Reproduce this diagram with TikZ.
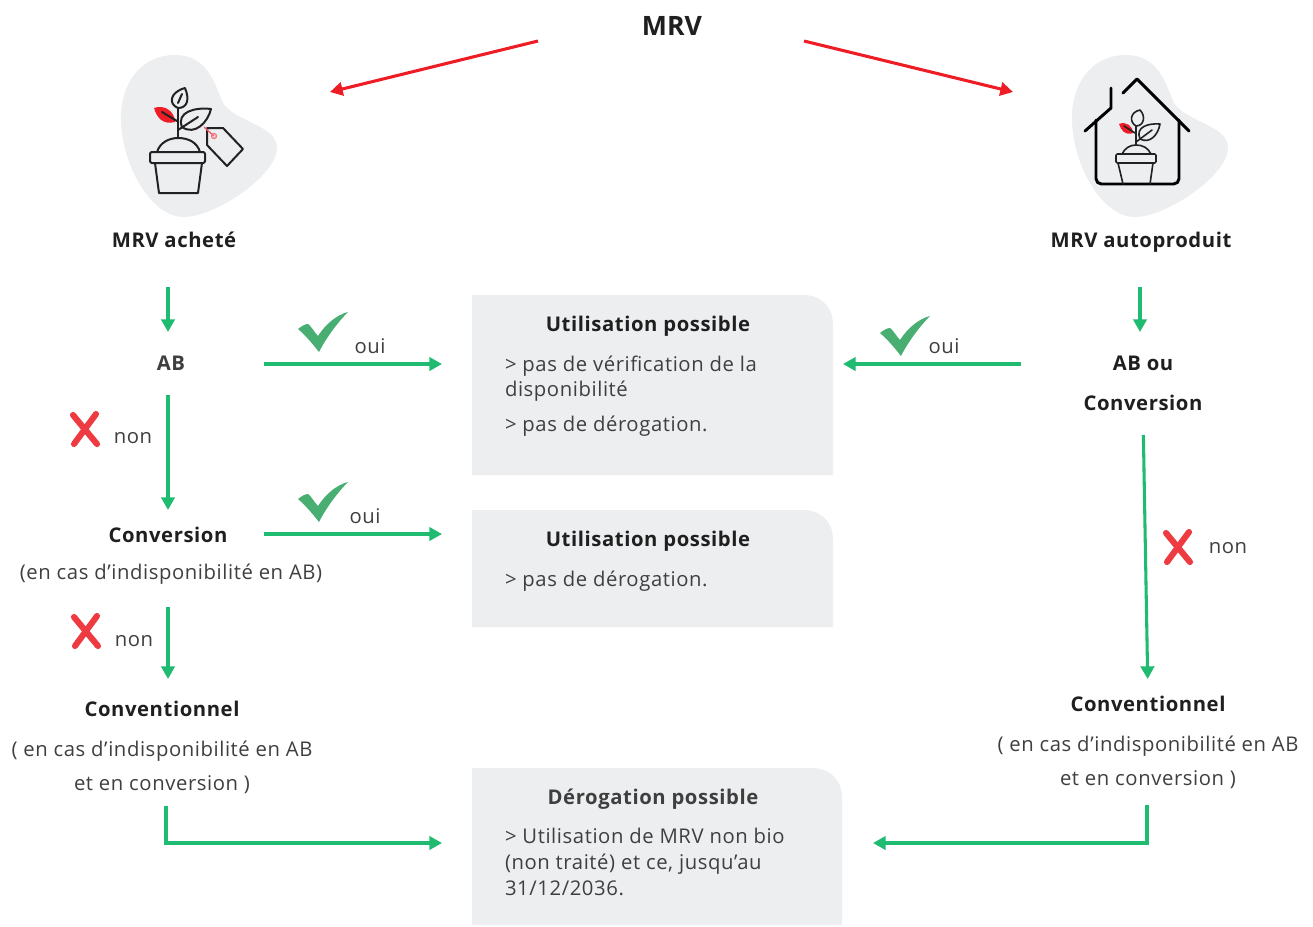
\documentclass[tikz,border=0pt]{standalone}
\usepackage{fontspec}
\setmainfont{Open Sans}
\newfontfamily\spaced[LetterSpace=2.9]{Open Sans}
\usetikzlibrary{arrows.meta,calc}
\definecolor{grn}{HTML}{1FBB70}
\definecolor{chk}{HTML}{48AE72}
\definecolor{rdx}{HTML}{EE3B42}
\definecolor{rda}{HTML}{EE1C25}
\definecolor{boxg}{HTML}{EDEEF0}
\definecolor{txt}{HTML}{3F3F3F}
\definecolor{hd}{HTML}{1F1F1F}
\definecolor{ico}{HTML}{222222}
\newcommand{\pxu}{0.75pt}
\tikzset{
 x=0.75pt,y=-0.75pt,
 lbl/.style={inner sep=0pt,outer sep=0pt,anchor=base,text height=10.5pt,text depth=3pt},
 head/.style={lbl,font=\spaced\fontsize{15.2}{16}\selectfont\bfseries,text=hd},
 headg/.style={head,text=txt},
 body/.style={lbl,font=\spaced\fontsize{15.2}{16}\selectfont,text=txt},
 bodyw/.style={body,anchor=base west},
 small/.style={body},
 ga/.style={draw=grn,line width=2.3pt,-{Triangle[length=9.5pt,width=10pt]}},
 ra/.style={draw=rda,line width=2.3pt,-{Triangle[length=9.5pt,width=10pt]}},
 boxn/.style={inner sep=0pt,outer sep=0pt,anchor=north west},
 ic/.style={draw=ico,line width=1.5pt,line join=round,line cap=round},
 ics/.style={ic,line width=1.2pt},
 icb/.style={draw=black,line width=2.2pt,line join=round,line cap=round},
 xm/.style={draw=rdx,line width=4.6pt,line cap=round},
}
\newcommand{\greybox}[5]{% name x y w h
 \node[boxn,minimum width=#4*\pxu,minimum height=#5*\pxu] (#1) at (#2,#3) {};
 \fill[boxg] (#1.south west) -- (#1.north west) -- ([xshift=-30*\pxu]#1.north east)
   .. controls ([xshift=-12*\pxu]#1.north east) and ([yshift=-12*\pxu]#1.north east) .. ([yshift=-30*\pxu]#1.north east)
   -- (#1.south east) -- cycle;}
\newcommand{\blob}[2]{%
 \fill[boxg,shift={(#1,#2)}] (121,120) .. controls (120,85) and (140,55) .. (175,55)
  .. controls (208,55) and (215,85) .. (223,103)
  .. controls (235,122) and (277,125) .. (277,148)
  .. controls (277,175) and (215,218) .. (182,217)
  .. controls (150,215) and (122,165) .. (121,120) -- cycle;}
\newcommand{\checkm}[3]{% x y scale
 \fill[chk,shift={(#1,#2)},scale=#3] (0,17) .. controls (4,14) and (7,12) .. (10,12)
  .. controls (13,14) and (17,21) .. (20,24)
  .. controls (27,13) and (38,3) .. (50,0)
  .. controls (40,10) and (28,26) .. (21,40)
  .. controls (14,31) and (7,23) .. (0,17) -- cycle;}
\newcommand{\crossm}[2]{%
 \draw[xm,shift={(#1,#2)}] (3,3) -- (27,32);
 \draw[xm,shift={(#1,#2)}] (26,2) -- (4,32);}
\begin{document}
\begin{tikzpicture}
\useasboundingbox[fill=white] (0,0) rectangle (1313,926);
% blobs
\blob{0}{0}
\blob{951}{0}
% boxes
\greybox{boxa}{472}{295}{361}{180}
\greybox{boxb}{472}{510}{361}{117}
\greybox{boxc}{472}{768}{370}{157}
% left icon
\fill[rda] (154,108) .. controls (165,104) and (175,112) .. (175,122) .. controls (163,125) and (157,118) .. (154,108) -- cycle;
\draw[ic] (162,112) -- (177,121);
\draw[ic] (178,138) -- (178,108);
\draw[ic] (178,108) .. controls (168,104) and (170,92) .. (185,88) .. controls (190,100) and (187,108) .. (178,108) -- cycle;
\draw[ic] (178,103) -- (182,94);
\draw[ic] (182,127) .. controls (176,112) and (195,107) .. (211,109) .. controls (208,122) and (195,136) .. (182,127) -- cycle;
\draw[ic] (178,130) -- (198,117);
\draw[ic] (157,152) .. controls (160,142) and (170,138) .. (178,138) .. controls (188,138) and (197,142) .. (200,152);
\draw[ic,rounded corners=1.5pt] (150,152) rectangle (205,163);
\draw[ic] (155,163) -- (159,193) -- (198,193) -- (202,163);
\draw[ic] (207,128) -- (223,128) -- (243,149) -- (227,166) -- (207,145) -- cycle;
\draw[rda!70,line width=1pt] (204,127) -- (214,136);
\draw[rda!60,line width=1pt] (214,136) circle (2.5);
% right icon
\draw[icb] (1123,93) -- (1137,79) -- (1189,131);
\draw[icb] (1111,88) -- (1111,108) -- (1085,131);
\draw[icb,rounded corners=4pt] (1096,120) -- (1096,184) -- (1179,184) -- (1179,120);
\fill[rda] (1119,124) .. controls (1126,121) and (1133,126) .. (1133,133) .. controls (1125,136) and (1121,130) .. (1119,124) -- cycle;
\draw[ics] (1124,126) -- (1135,133);
\draw[ics] (1136,145) -- (1136,126);
\draw[ics] (1136,126) .. controls (1129,122) and (1130,112) .. (1140,110) .. controls (1146,116) and (1144,126) .. (1136,126) -- cycle;
\draw[ics] (1140,139) .. controls (1135,127) and (1148,123) .. (1160,124) .. controls (1158,135) and (1150,144) .. (1140,139) -- cycle;
\draw[ics] (1136,142) -- (1152,130);
\draw[ics] (1122,154) .. controls (1125,148) and (1130,145) .. (1136,145) .. controls (1143,145) and (1148,148) .. (1151,154);
\draw[ics,rounded corners=1pt] (1116,154) rectangle (1156,163);
\draw[ics] (1118,163) -- (1123,184);
\draw[ics] (1153,163) -- (1150,184);
% axes used by connectors
\coordinate (axL) at (168,0);
\coordinate (axR) at (1140,0);
\coordinate (axLb) at (166,0);
\coordinate (axRb) at (1147,0);
\coordinate (gutL) at (264,0);
\coordinate (tipL) at (442,0);
\coordinate (gutR) at (1021,0);
\coordinate (tipR) at (843,0);
\coordinate (tipRc) at (873,0);
\coordinate (rowD) at (0,843);
% titles
\node[lbl,font=\fontsize{20}{24}\selectfont\bfseries,text=hd] (mrv) at (672,35) {MRV};
\coordinate (ma) at (538,41);
\coordinate (mb) at (804,41);
\coordinate (ta) at (330,92);
\coordinate (tb) at (1013,92);
\node[head] (achete) at (174,247) {MRV acheté};
\node[head] (auto) at (1141,247) {MRV autoproduit};
\node[headg] (ab) at (171,370) {AB};
\node[head] (abou) at (1143,370) {AB ou};
\node[head] (convR) at (1143,410) {Conversion};
\node[head] (convL) at (168,542) {Conversion};
\node[body] (casL) at (171,579) {(en cas d’indisponibilité en AB)};
\node[head] (cvnL) at (162,716) {Conventionnel};
\node[body] (casL2) at (162,756) {( en cas d’indisponibilité en AB};
\node[body] (casL3) at (162,790) {et en conversion )};
\node[head] (cvnR) at (1148,711) {Conventionnel};
\node[body] (casR2) at (1148,751) {( en cas d’indisponibilité en AB};
\node[body] (casR3) at (1148,785) {et en conversion )};
% box text
\node[head] (h1) at (648,331) {Utilisation possible};
\node[bodyw] (t1) at (505,371) {> pas de vérification de la};
\node[bodyw] (t2) at (505,396) {disponibilité};
\node[bodyw] (t3) at (505,431) {> pas de dérogation.};
\node[head] (h2) at (648,546) {Utilisation possible};
\node[bodyw] (t4) at (505,586) {> pas de dérogation.};
\node[headg] (h3) at (653,804) {Dérogation possible};
\node[bodyw] (t5) at (505,843) {> Utilisation de MRV non bio};
\node[bodyw] (t6) at (505,869) {(non traité) et ce, jusqu’au};
\node[bodyw] (t7) at (505,895) {31/12/2036.};
% oui / non
\node[small] (o1) at (370,353) {oui};
\node[small] (o2) at (365,523) {oui};
\node[small] (o3) at (944,353) {oui};
\node[small] (n1) at (133,443) {non};
\node[small] (n2) at (134,646) {non};
\node[small] (n3) at (1228,553) {non};
\checkm{298}{312}{1}
\checkm{298}{482}{1}
\checkm{880}{316}{1}
\crossm{70}{412}
\crossm{71}{614}
\crossm{1163}{530}
% connectors
\draw[ra] (ma) -- (ta);
\draw[ra] (mb) -- (tb);
\draw[ga,shorten <=36*\pxu,shorten >=24*\pxu] (achete.south -| axL) -- (ab.north -| axL);
\draw[ga,shorten <=21*\pxu,shorten >=18*\pxu] (ab.south -| axL) -- (convL.north -| axL);
\draw[ga,shorten <=24*\pxu,shorten >=23*\pxu] (casL.south -| axL) -- (cvnL.north -| axL);
\draw[ga] ([yshift=\pxu]ab.east -| gutL) -- ([yshift=\pxu]ab.east -| tipL);
\draw[ga] ([yshift=3*\pxu]convL.east -| gutL) -- ([yshift=3*\pxu]convL.east -| tipL);
\draw[ga,line join=miter] ([yshift=-12*\pxu]casL3.south -| axLb) -- (axLb |- rowD) -- (tipL |- rowD);
\draw[ga,shorten <=36*\pxu,shorten >=24*\pxu] (auto.south -| axR) -- (abou.north -| axR);
\draw[ga] ([yshift=\pxu]abou.west -| gutR) -- ([yshift=\pxu]abou.west -| tipR);
\draw[ga,shorten <=21*\pxu,shorten >=18*\pxu] (convR.south) -- (cvnR.north);
\draw[ga,line join=miter] ([yshift=-16*\pxu]casR3.south -| axRb) -- (axRb |- rowD) -- (tipRc |- rowD);
\end{tikzpicture}
\end{document}
